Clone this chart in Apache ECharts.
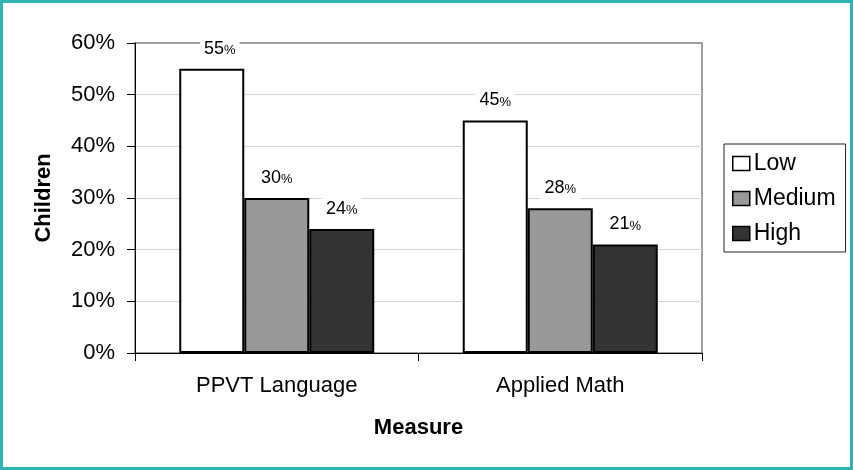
<!DOCTYPE html>
<html>
<head>
<meta charset="utf-8">
<script src="https://cdn.jsdelivr.net/npm/echarts@6/dist/echarts.min.js"></script>
<style>
  html, body { margin: 0; padding: 0; background: #fff; }
  #chart { width: 853px; height: 470px; }
</style>
</head>
<body>
<div id="chart"></div>
<script>
// Share of children per measure, split by level
const categories = ['PPVT Language', 'Applied Math'];
const lowValues = [55, 45];
const mediumValues = [30, 28];
const highValues = [24, 21];
const yTicks = [0, 10, 20, 30, 40, 50, 60];

const FONT = '"Liberation Sans", Arial, sans-serif';

const chart = echarts.init(document.getElementById('chart'));

function barLabel() {
  return {
    show: true,
    position: 'top',
    distance: 9,
    backgroundColor: '#fff',
    padding: [2, 4],
    formatter: p => '{n|' + p.value + '}{p|%}',
    rich: {
      n: { fontFamily: FONT, fontSize: 18, color: '#000' },
      p: { fontFamily: FONT, fontSize: 13, color: '#000', verticalAlign: 'bottom', padding: [0, 0, 1, 0] }
    }
  };
}

function barSeries(name, values, fill) {
  return {
    name: name,
    type: 'bar',
    data: values,
    barWidth: 65,
    barGap: '0%',
    itemStyle: { color: fill, borderColor: '#000', borderWidth: 2 },
    label: barLabel()
  };
}

const lowSeries = barSeries('Low', lowValues, '#ffffff');
// the tallest label sits a little right of its bar centre
lowSeries.data = lowValues.map((v, i) => i === 0 ? { value: v, label: { offset: [8, 0] } } : v);

chart.setOption({
  animation: false,
  backgroundColor: '#fff',
  textStyle: { fontFamily: FONT },
  graphic: [{
    type: 'rect',
    shape: { x: 1.5, y: 1.5, width: 850, height: 467 },
    style: { fill: 'none', stroke: '#2fb3b3', lineWidth: 3 },
    z: 100
  }],
  grid: {
    left: 135, right: 151, top: 43, bottom: 117,
    show: true, borderColor: '#808080', borderWidth: 1.5, backgroundColor: '#fff'
  },
  legend: {
    orient: 'vertical',
    left: 724, top: 144,
    padding: [8, 10, 7, 8],
    backgroundColor: '#fff',
    borderColor: '#222',
    borderWidth: 1,
    itemWidth: 17, itemHeight: 14,
    itemGap: 12,
    icon: 'rect',
    textStyle: { fontFamily: FONT, fontSize: 23, color: '#000', padding: [0, 0, 0, -1] },
    itemStyle: { borderColor: '#000', borderWidth: 1.5 },
    data: ['Low', 'Medium', 'High']
  },
  xAxis: {
    type: 'category',
    data: categories,
    name: 'Measure',
    nameLocation: 'middle',
    nameGap: 64,
    nameTextStyle: { fontFamily: FONT, fontSize: 22, fontWeight: 'bold', color: '#000' },
    axisLine: { lineStyle: { color: '#000', width: 1 } },
    axisTick: { show: true, length: 8, lineStyle: { color: '#000' } },
    axisLabel: { fontFamily: FONT, fontSize: 22, color: '#000', margin: 22 }
  },
  yAxis: {
    type: 'value',
    min: yTicks[0],
    max: yTicks[yTicks.length - 1],
    interval: yTicks[1] - yTicks[0],
    name: 'Children',
    nameLocation: 'middle',
    nameGap: 80,
    nameTextStyle: { fontFamily: FONT, fontSize: 22, fontWeight: 'bold', color: '#000' },
    axisLine: { show: true, lineStyle: { color: '#000', width: 1 } },
    axisTick: { show: true, length: 8, lineStyle: { color: '#000' } },
    axisLabel: { fontFamily: FONT, fontSize: 22, color: '#000', margin: 20, formatter: '{value}%' },
    splitLine: { show: true, showMaxLine: false, lineStyle: { color: '#d4d4d4', width: 1.2 } }
  },
  series: [
    lowSeries,
    barSeries('Medium', mediumValues, '#999999'),
    barSeries('High', highValues, '#333333')
  ]
});
</script>
</body>
</html>
